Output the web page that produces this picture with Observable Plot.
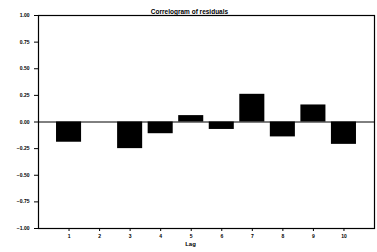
<!DOCTYPE html>
<html><head><meta charset="utf-8">
<script src="https://cdn.jsdelivr.net/npm/d3@7"></script>
<script src="https://cdn.jsdelivr.net/npm/@observablehq/plot@0.6"></script>
<style>
html,body{margin:0;padding:0;background:#fff;}
svg{display:block;}
</style>
</head><body>
<div id="chart"></div>
<script>
const lags = [1, 2, 3, 4, 5, 6, 7, 8, 9, 10];
const acf = [-0.19, 0.0, -0.25, -0.11, 0.06, -0.07, 0.26, -0.14, 0.16, -0.21];
const yTicks = [1, 0.75, 0.5, 0.25, 0, -0.25, -0.5, -0.75, -1];
const xTicks = [1, 2, 3, 4, 5, 6, 7, 8, 9, 10];
const title = "Correlogram of residuals";
const xLabel = "Lag";

const data = lags.map((l, i) => ({lag: l, acf: acf[i]}));
const half = 0.41;

const chart = Plot.plot({
  width: 377,
  height: 252,
  marginLeft: 38,
  marginRight: 3,
  marginTop: 15,
  marginBottom: 24,
  style: {fontFamily: "Liberation Sans, Arial, sans-serif", fontSize: "5px", fontWeight: "bold", background: "#fff", color: "#000"},
  x: {domain: [0, 11], ticks: xTicks, tickSize: 3, tickFormat: d => String(d), label: null},
  y: {domain: [-1, 1], ticks: yTicks, tickSize: 4, tickFormat: d3.format(".2f"), label: null},
  marks: [
    Plot.rectY(data, {x1: d => d.lag - half, x2: d => d.lag + half, y1: 0, y2: "acf", fill: "#000"}),
    Plot.ruleY([0], {stroke: "#000", strokeWidth: 1}),
    Plot.frame({stroke: "#000", strokeWidth: 1.2}),
    Plot.axisX({ticks: xTicks, tickSize: 3, tickFormat: d => String(d), label: null, fontSize: 5, tickPadding: 3}),
    Plot.axisY({ticks: yTicks, tickSize: 4, tickFormat: d3.format(".2f"), label: null, fontSize: 5, tickPadding: 5}),
    Plot.text([xLabel], {text: d => d, frameAnchor: "bottom", dy: 17, dx: -16, fontSize: 6, fontWeight: "bold"}),
    Plot.text([title], {text: d => d, frameAnchor: "top", dy: -6, dx: -17, fontSize: 6.5, fontWeight: "bold"})
  ]
});
document.getElementById("chart").appendChild(chart);
</script>
</body></html>
